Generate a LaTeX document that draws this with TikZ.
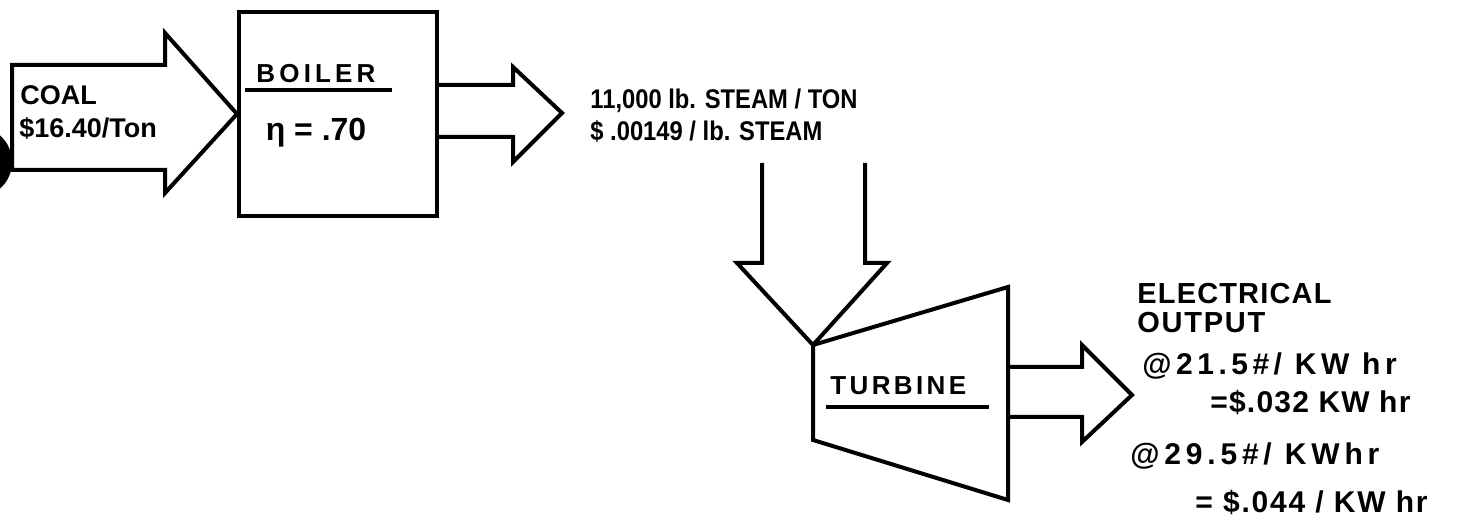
\documentclass[tikz,border=0pt]{standalone}
\usepackage{fontspec}
\setmainfont{Liberation Sans}
\newfontfamily\narrowsans[FakeStretch=0.88]{Liberation Sans}
\newcommand\lsp[1]{\addfontfeature{LetterSpace=#1}}
\tikzset{
  shape line/.style={line width=2pt, line join=miter, line cap=rect},
  lbl/.style={inner sep=0pt, anchor=base west, text=black},
  lblc/.style={inner sep=0pt, anchor=base, text=black},
}
\begin{document}
\begin{tikzpicture}[x=0.5pt, y=-0.5pt]
\clip (0,0) rectangle (1479,522);
\fill[white] (0,0) rectangle (1479,522);

% scan hole at left edge
\fill[black] (-20,162) ellipse (16pt and 17pt);

% boiler box
\node[draw, shape line, minimum width=99pt, minimum height=102pt, inner sep=0pt] (boiler) at (338,114) {};
\node[lblc, font=\fontsize{13}{15}\bfseries\lsp{16}] (boilertitle) at (316,83) {BOILER};
\draw[shape line] (247,90) coordinate (bul) -- (390,90) coordinate (bur);
\node[lblc, font=\fontsize{16}{18}\bfseries] (eta) at (316,141) {η = .70};

% coal input arrow
\coordinate (coaltip) at (boiler.west);
\draw[shape line] (12,65) -- (165,65) -- (165,33) -- (coaltip) -- (165,193) -- (165,170) -- (12,170) -- cycle;
\node[lbl, font=\fontsize{13.5}{16}\bfseries] (coal) at (20,105) {COAL};
\node[lbl, font=\fontsize{13.5}{16}\bfseries] (coalprice) at (19,138) {\$16.40/Ton};

% steam output arrow
\draw[shape line] (boiler.east |- 0,85) -- (513,85) -- (513,67) -- (562,113) coordinate (steamtip) -- (513,162) -- (513,137) -- (boiler.east |- 0,137);
\node[lbl, font=\fontsize{13.5}{15}\narrowsans\bfseries] (steam1) at (590,109) {11,000 lb. STEAM / TON};
\node[lbl, font=\fontsize{13.5}{15}\narrowsans\bfseries] (steam2) at (590,141) {\$ .00149 / lb. STEAM};

% turbine intake arrow
\draw[shape line] (762,165) -- (762,263) -- (737,263) -- (813,345) coordinate (intaketip) -- (887,263) -- (865,263) -- (865,165);

% turbine
\draw[shape line] (intaketip) -- (1008,287) coordinate (tne) -- (1008,500) coordinate (tse) -- (813,440) coordinate (tsw) -- cycle;
\node[lbl, font=\fontsize{13}{15}\bfseries\lsp{13}] (turbine) at (830,395) {TURBINE};
\draw[shape line] (828,407) coordinate (tul) -- (987,407) coordinate (tur);

% electrical output arrow
\draw[shape line] (1008,367) -- (1082,367) -- (1082,345) -- (1132,395) coordinate (outtip) -- (1082,442) -- (1082,417) -- (1008,417);

\node[lbl, font=\fontsize{14.5}{17}\bfseries\lsp{4}] (elec1) at (1137,304) {ELECTRICAL};
\node[lbl, font=\fontsize{14.5}{17}\bfseries\lsp{6}] (elec2) at (1137,333) {OUTPUT};
\node[lbl, font=\fontsize{15}{17}\bfseries\lsp{15}] (rate1) at (1142,375) {@21.5\#/ KW hr};
\node[lbl, font=\fontsize{15}{17}\bfseries\lsp{4}] (cost1) at (1210,413) {=\$.032 KW hr};
\node[lbl, font=\fontsize{15}{17}\bfseries\lsp{16}] (rate2) at (1130,465) {@29.5\#/ KWhr};
\node[lbl, font=\fontsize{15}{17}\bfseries\lsp{6}] (cost2) at (1195,513) {= \$.044 / KW hr};
\end{tikzpicture}
\end{document}
